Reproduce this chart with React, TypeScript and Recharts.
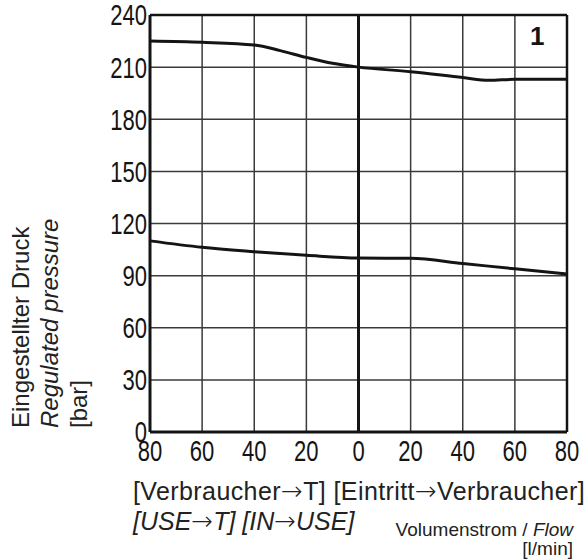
import { LineChart, Line, XAxis, YAxis, CartesianGrid, ReferenceLine } from "recharts";

// flow in l/min: negative = USE->T side, positive = IN->USE side
const flowTicks = [-80, -60, -40, -20, 0, 20, 40, 60, 80];
const pressureTicks = [0, 30, 60, 90, 120, 150, 180, 210, 240];

const upperFlow = [-80, -60, -40, -30, -20, -10, 0, 20, 40, 50, 60, 80];
const upperPressure = [225, 224.3, 222.7, 219.5, 215.6, 212.2, 210, 207.4, 204, 202.4, 203, 203];

const lowerFlow = [-80, -60, -40, -20, 0, 20, 40, 60, 80];
const lowerPressure = [110, 106.3, 103.8, 101.7, 100.1, 100, 97, 93.9, 91];

const upper = upperFlow.map((x, i) => ({ x, y: upperPressure[i] }));
const lower = lowerFlow.map((x, i) => ({ x, y: lowerPressure[i] }));

const INK = "#141414";
const GRID = "#3a3a3a";
const sans = "'Liberation Sans', Arial, sans-serif";

// narrow drafting-style digits: regular sans squeezed horizontally
function NarrowTick(props: any) {
  const { x, y, payload, textAnchor, vertical } = props;
  const label = String(Math.abs(payload.value));
  return (
    <g transform={`translate(${x},${y}) scale(0.76,1)`}>
      <text
        x={0}
        y={0}
        dy={vertical ? "0.36em" : "0.72em"}
        textAnchor={textAnchor}
        fontFamily={sans}
        fontSize={29}
        fill={INK}
      >
        {label}
      </text>
    </g>
  );
}

const arrowStyle = { fontFamily: "'DejaVu Sans', sans-serif", fontSize: 26, fontStyle: "normal" as const, fontWeight: 200 };

export default function App() {
  return (
    <div style={{ position: "absolute", left: 0, top: 0, width: 587, height: 559, background: "#fff", fontFamily: sans, color: "#222" }}>
      <LineChart width={587} height={559} data={upper} margin={{ top: 15, right: 20, bottom: 97, left: 0 }}>
        <CartesianGrid stroke={GRID} strokeWidth={1.5} />
        <XAxis
          type="number"
          dataKey="x"
          domain={[-80, 80]}
          ticks={flowTicks}
          interval={0}
          axisLine={{ stroke: INK, strokeWidth: 3 }}
          tickLine={false}
          tickSize={6}
          tickMargin={2}
          height={30}
          tick={<NarrowTick />}
        />
        <YAxis
          type="number"
          domain={[0, 240]}
          ticks={pressureTicks}
          interval={0}
          axisLine={{ stroke: INK, strokeWidth: 3 }}
          tickLine={false}
          tickSize={3}
          tickMargin={0}
          width={150}
          tick={<NarrowTick vertical />}
        />
        <ReferenceLine x={0} stroke={INK} strokeWidth={3} />
        <ReferenceLine x={80} stroke={INK} strokeWidth={2.5} />
        <ReferenceLine y={240} stroke={INK} strokeWidth={2.5} />
        <Line data={upper} dataKey="y" type="monotone" stroke={INK} strokeWidth={3} dot={false} isAnimationActive={false} />
        <Line data={lower} dataKey="y" type="monotone" stroke={INK} strokeWidth={3} dot={false} isAnimationActive={false} />
      </LineChart>

      <div style={{ position: "absolute", left: 530, top: 21, fontSize: 26, fontWeight: "bold", lineHeight: "30px", color: INK }}>1</div>

      <div
        style={{
          position: "absolute",
          left: 6,
          top: 428,
          transform: "rotate(-90deg)",
          transformOrigin: "0 0",
          whiteSpace: "nowrap",
          fontSize: 24,
          lineHeight: "29px",
        }}
      >
        <div>Eingestellter Druck</div>
        <div style={{ fontStyle: "italic" }}>Regulated pressure</div>
        <div>[bar]</div>
      </div>

      <div style={{ position: "absolute", left: 133, top: 476, fontSize: 25, lineHeight: "30px", whiteSpace: "nowrap" }}>
        <div style={{ letterSpacing: 0.4 }}>
          [Verbraucher<span style={arrowStyle}>→</span>T] [Eintritt<span style={arrowStyle}>→</span>Verbraucher]
        </div>
        <div style={{ fontStyle: "italic" }}>
          [USE<span style={arrowStyle}>→</span>T] [IN<span style={arrowStyle}>→</span>USE]
        </div>
      </div>

      <div style={{ position: "absolute", right: 14, top: 520, fontSize: 19, lineHeight: "19px", whiteSpace: "nowrap", textAlign: "right" }}>
        <div>
          Volumenstrom / <span style={{ fontStyle: "italic" }}>Flow</span>
        </div>
        <div>[l/min]</div>
      </div>
    </div>
  );
}
